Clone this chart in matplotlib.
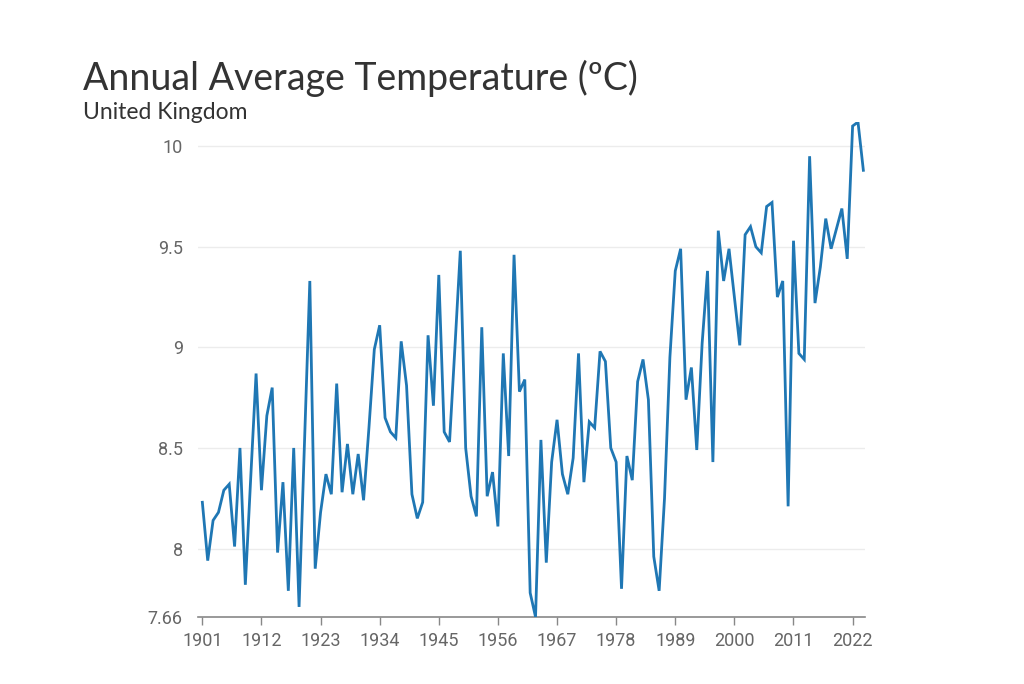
import numpy as np
import matplotlib
matplotlib.use("Agg")
import matplotlib.pyplot as plt

years = list(range(1901, 2025))

temps = [
    8.23, 7.94, 8.14, 8.18, 8.29, 8.32, 8.01, 8.50, 7.82, 8.35,   # 1901-1910
    8.87, 8.29, 8.66, 8.80, 7.98, 8.33, 7.79, 8.50, 7.71, 8.52,   # 1911-1920
    9.33, 7.90, 8.18, 8.37, 8.27, 8.82, 8.28, 8.52, 8.27, 8.47,   # 1921-1930
    8.24, 8.60, 8.99, 9.11, 8.65, 8.58, 8.55, 9.03, 8.81, 8.27,   # 1931-1940
    8.15, 8.23, 9.06, 8.71, 9.36, 8.58, 8.53, 9.00, 9.48, 8.50,   # 1941-1950
    8.26, 8.16, 9.10, 8.26, 8.38, 8.11, 8.97, 8.46, 9.46, 8.78,   # 1951-1960
    8.84, 7.78, 7.66, 8.54, 7.93, 8.43, 8.64, 8.37, 8.27, 8.45,   # 1961-1970
    8.97, 8.33, 8.63, 8.60, 8.98, 8.93, 8.50, 8.43, 7.80, 8.46,   # 1971-1980
    8.34, 8.83, 8.94, 8.74, 7.96, 7.79, 8.25, 8.95, 9.38, 9.49,   # 1981-1990
    8.74, 8.90, 8.49, 9.02, 9.38, 8.43, 9.58, 9.33, 9.49, 9.25,   # 1991-2000
    9.01, 9.56, 9.60, 9.50, 9.47, 9.70, 9.72, 9.25, 9.33, 8.21,   # 2001-2010
    9.53, 8.97, 8.94, 9.95, 9.22, 9.40, 9.64, 9.49, 9.59, 9.69,   # 2011-2020
    9.44, 10.10, 10.12, 9.88,                                     # 2021-2024
]

xticks = list(range(1901, 2023, 11))
yticks = [7.66, 8, 8.5, 9, 9.5, 10]
ytick_labels = ["7.66", "8", "8.5", "9", "9.5", "10"]

line_color = "#1f77b4"
grid_color = "#ececec"
tick_color = "#666666"

fig = plt.figure(figsize=(10.24, 6.84), dpi=100, facecolor="white")
ax = fig.add_axes([0.1934, 0.098, 0.6513, 0.7236])

ax.plot(years, temps, color=line_color, linewidth=2.0, solid_joinstyle="miter", zorder=3)

ax.set_xlim(1900.2, 2024.3)
ax.set_ylim(min(temps), max(temps))

ax.set_xticks(xticks)
ax.set_xticklabels([str(y) for y in xticks])
ax.set_yticks(yticks)
ax.set_yticklabels(ytick_labels)

for s in ["top", "right", "left"]:
    ax.spines[s].set_visible(False)
ax.spines["bottom"].set_color("#888888")
ax.spines["bottom"].set_linewidth(1.2)

ax.tick_params(axis="x", length=6, width=1, color="#888888", pad=5,
               labelsize=13, labelcolor=tick_color)
ax.tick_params(axis="y", length=0, pad=11, labelsize=13, labelcolor=tick_color)
for lbl in ax.get_xticklabels() + ax.get_yticklabels():
    lbl.set_family("Roboto")

ax.grid(axis="y", color=grid_color, linewidth=1)
ax.set_axisbelow(True)

fig.text(0.081, 0.868, "Annual Average Temperature (ºC)", fontsize=27,
         color="#333333", family="Lato", va="baseline", ha="left")
fig.text(0.081, 0.826, "United Kingdom", fontsize=16.5,
         color="#333333", family="Lato", va="baseline", ha="left")

fig.savefig("out.png", dpi=100, facecolor="white")
